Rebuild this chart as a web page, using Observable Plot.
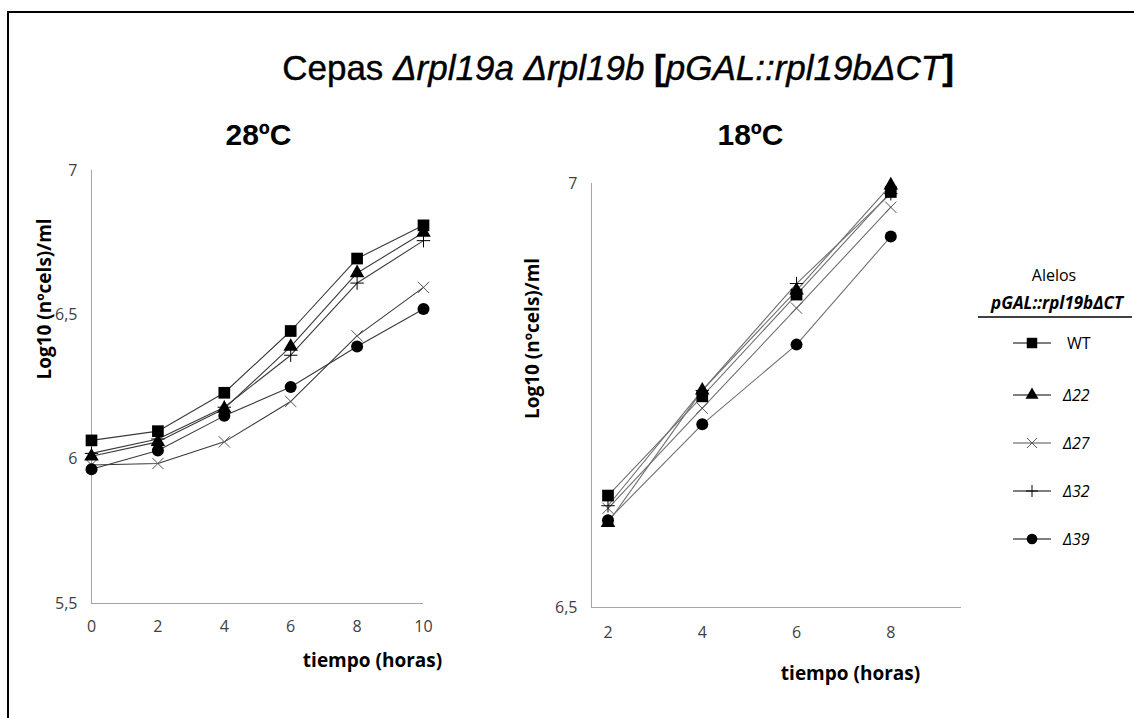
<!DOCTYPE html>
<html>
<head>
<meta charset="utf-8">
<script src="https://cdn.jsdelivr.net/npm/d3@7"></script>
<script src="https://cdn.jsdelivr.net/npm/@observablehq/plot@0.6"></script>
<style>
  html, body { margin: 0; padding: 0; background: #fff; }
  #root { position: relative; width: 1134px; height: 718px; overflow: hidden; background: #fff; }
  .abs { position: absolute; }
  #frame { left: 7px; top: 11px; width: 1140px; height: 720px; border-left: 2px solid #000; border-top: 2px solid #000; }
  #title { left: 100px; width: 1036px; top: 48px; text-align: center; font-family: "Liberation Sans", Arial, sans-serif; font-size: 35px; color: #000; white-space: nowrap; -webkit-text-stroke: 0.4px #000; }
  #title i { font-style: italic; }
</style>
</head>
<body>
<div id="root">
  <div id="frame" class="abs"></div>
  <div id="title" class="abs">Cepas <i>&#916;rpl19a</i> <i>&#916;rpl19b</i> <b>[</b><i>pGAL::rpl19b&#916;CT</i><b>]</b></div>
  <div id="left" class="abs" style="left:0px; top:0px;"></div>
  <div id="right" class="abs" style="left:490px; top:0px;"></div>
  <div id="legend" class="abs" style="left:960px; top:250px;"></div>
</div>
<script>
// ---- data ----
const seriesNames = ["WT", "Δ22", "Δ27", "Δ32", "Δ39"];

const time28 = [0, 2, 4, 6, 8, 10];
const wt28  = [6.065, 6.097, 6.23, 6.444, 6.695, 6.81];
const d22_28 = [6.01, 6.06, 6.175, 6.39, 6.645, 6.785];
const d27_28 = [5.98, 5.985, 6.06, 6.20, 6.427, 6.595];
const d32_28 = [6.02, 6.07, 6.18, 6.36, 6.61, 6.757];
const d39_28 = [5.965, 6.03, 6.15, 6.25, 6.39, 6.52];

const time18 = [2, 4, 6, 8];
const wt18  = [6.632, 6.749, 6.869, 6.99];
const d22_18 = [6.60, 6.756, 6.874, 6.998];
const d27_18 = [6.617, 6.735, 6.853, 6.972];
const d32_18 = [6.62, 6.756, 6.882, 6.988];
const d39_18 = [6.603, 6.716, 6.81, 6.9375];

const xTicks28 = [0, 2, 4, 6, 8, 10];
const yTicks28 = [5.5, 6, 6.5, 7];
const xTicks18 = [2, 4, 6, 8];
const yTicks18 = [6.5, 7];

const yLabel = "Log10 (nºcels)/ml";
const xLabel = "tiempo (horas)";

// ---- helpers ----
function table(times, arrs) {
  const rows = [];
  arrs.forEach((vals, i) => vals.forEach((v, j) => rows.push({series: seriesNames[i], t: times[j], v})));
  return rows;
}
const data28 = table(time28, [wt28, d22_28, d27_28, d32_28, d39_28]);
const data18 = table(time18, [wt18, d22_18, d27_18, d32_18, d39_18]);

const symbolStyle = {
  "WT":  {symbol: "square",   r: 6.6, fill: "#000", stroke: "none"},
  "Δ22": {symbol: "triangle", r: 5.4, fill: "#000", stroke: "none"},
  "Δ27": {symbol: "times",    r: 5.2, fill: "none", stroke: "#555"},
  "Δ32": {symbol: "plus",     r: 4.4, fill: "none", stroke: "#000"},
  "Δ39": {symbol: "circle",   r: 6.0, fill: "#000", stroke: "none"}
};
const comma = d => String(d).replace(".", ",");
const tickFont = "'Open Sans', 'Noto Sans', sans-serif";
const labelFont = "'Open Sans', 'Noto Sans', sans-serif";
const headFont = "'Liberation Sans', Arial, sans-serif";

function dotMarks(data) {
  const order = ["Δ27", "Δ32", "Δ39", "Δ22", "WT"];
  return order.map(s => {
    const st = symbolStyle[s];
    return Plot.dot(data.filter(d => d.series === s), {
      x: "t", y: "v", symbol: () => st.symbol, r: st.r,
      fill: st.fill, stroke: st.stroke, strokeWidth: 1
    });
  });
}

function panel(opts) {
  const o = opts;
  return Plot.plot({
    width: o.width, height: o.height,
    marginLeft: o.ml, marginRight: o.mr, marginTop: o.mt, marginBottom: o.mb,
    x: {domain: o.xDomain},
    y: {domain: o.yDomain},
    symbol: {type: "identity"},
    style: {fontFamily: tickFont, fontSize: "16px", color: "#404040", background: "transparent", overflow: "visible"},
    marks: [
      Plot.ruleX([o.xDomain[0]], {stroke: "#a6a6a6", strokeWidth: 1}),
      Plot.ruleY([o.yDomain[0]], {stroke: "#a6a6a6", strokeWidth: 1}),
      Plot.axisX({ticks: o.xTicks, tickSize: 0, tickPadding: o.xPad, label: null, tickFormat: comma,
        fontSize: 16, fontFamily: tickFont, fill: "#404040"}),
      Plot.axisY({ticks: o.yTicks, tickSize: 0, tickPadding: 14, label: null, tickFormat: comma,
        fontSize: 16, fontFamily: tickFont, fill: "#404040"}),
      Plot.line(o.data, {x: "t", y: "v", z: "series", stroke: o.lineColor, strokeWidth: 1.1}),
      ...dotMarks(o.data),
      Plot.text([yLabel], {frameAnchor: "left", rotate: -90, dx: o.ylDx, dy: o.ylDy,
        fontFamily: labelFont, fontWeight: "bold", fontSize: 19, fill: "#000", textAnchor: "middle", lineAnchor: "middle"}),
      Plot.text([xLabel], {frameAnchor: "bottom", dx: o.xlDx, dy: o.xlDy,
        fontFamily: labelFont, fontWeight: "bold", fontSize: 19, fill: "#000", textAnchor: "middle", lineAnchor: "middle"}),
      Plot.text([o.head], {frameAnchor: "top", dx: o.hDx, dy: o.hDy,
        fontFamily: headFont, fontWeight: "bold", fontSize: 30, fill: "#000", textAnchor: "middle", lineAnchor: "middle"})
    ]
  });
}

document.getElementById("left").appendChild(panel({
  width: 450, height: 680, ml: 91, mr: 27, mt: 170, mb: 77,
  xDomain: [0, 10], yDomain: [5.5, 7], xTicks: xTicks28, yTicks: yTicks28, xPad: 17,
  data: data28, lineColor: "#3a3a3a",
  ylDx: -47, ylDy: -88, xlDx: 115, xlDy: 57, head: "28ºC", hDx: 1, hDy: -35
}));

document.getElementById("right").appendChild(panel({
  width: 481, height: 700, ml: 101, mr: 10, mt: 183, mb: 93,
  xDomain: [1.65, 9.5], yDomain: [6.5, 7], xTicks: xTicks18, yTicks: yTicks18, xPad: 19,
  data: data18, lineColor: "#707070",
  ylDx: -59, ylDy: -57, xlDx: 74, xlDy: 66, head: "18ºC", hDx: -26, hDy: -48
}));

// ---- legend ----
(function legend() {
  const W = 174, H = 310;
  const svg = d3.create("svg").attr("width", W).attr("height", H)
    .style("font-family", "'Open Sans', 'Noto Sans', sans-serif").style("overflow", "visible");
  svg.append("text").attr("x", 94).attr("y", 25).attr("text-anchor", "middle")
    .attr("dominant-baseline", "central").attr("font-size", 16).attr("fill", "#000").text("Alelos");
  svg.append("text").attr("x", 97).attr("y", 52).attr("text-anchor", "middle")
    .attr("dominant-baseline", "central").attr("font-size", 17).attr("font-weight", "bold")
    .attr("font-style", "italic").attr("fill", "#000").text("pGAL::rpl19bΔCT");
  svg.append("line").attr("x1", 18).attr("x2", 172).attr("y1", 67).attr("y2", 67)
    .attr("stroke", "#000").attr("stroke-width", 1.5);
  const ys = [93, 145, 193, 241, 289];
  const symMap = {square: d3.symbolSquare, triangle: d3.symbolTriangle, times: d3.symbolTimes, plus: d3.symbolPlus, circle: d3.symbolCircle};
  seriesNames.forEach((s, i) => {
    const st = symbolStyle[s];
    const g = svg.append("g").attr("transform", `translate(0,${ys[i]})`);
    g.append("line").attr("x1", 53).attr("x2", 91).attr("stroke", s === "Δ27" ? "#555" : "#000").attr("stroke-width", 1.2);
    g.append("path").attr("transform", "translate(72,0)")
      .attr("d", d3.symbol(symMap[st.symbol], st.r * st.r * Math.PI * 0.8)())
      .attr("fill", st.fill).attr("stroke", st.stroke);
    g.append("text").attr("x", s === "WT" ? 107 : 103).attr("y", 0).attr("dominant-baseline", "central")
      .attr("font-size", 16).attr("font-style", s === "WT" ? "normal" : "italic").attr("fill", "#000").text(s);
  });
  document.getElementById("legend").appendChild(svg.node());
})();
</script>
</body>
</html>
